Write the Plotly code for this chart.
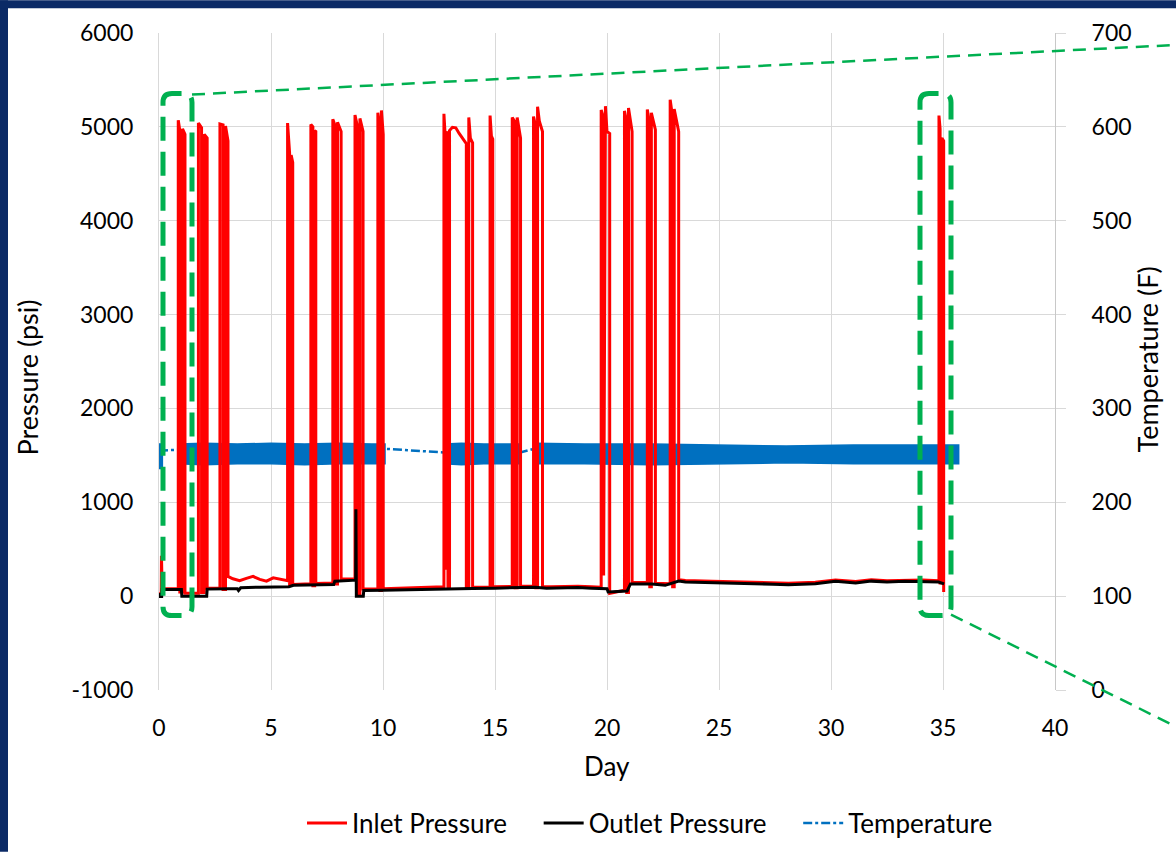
import plotly.graph_objects as go

# ---------------- data ----------------
# Inlet pressure (psi) vs day
inlet_pts = [
    (0.00, 25), (0.10, 30), (0.11, 430), (0.14, 80), (0.86, 82),
    # A
    (0.86, 5070), (0.93, 4960), (0.93, 45), (1.05, 45), (1.05, 4980), (1.16, 4920), (1.16, 30),
    (1.76, 30),
    # B
    (1.76, 5040), (1.90, 4990), (1.90, 40), (2.02, 40), (2.02, 4920), (2.15, 4880), (2.15, 85),
    (2.72, 88),
    # C
    (2.72, 5030), (2.86, 5020), (2.86, 70), (2.97, 70), (2.97, 5010), (3.08, 4850), (3.08, 210),
    (3.30, 185), (3.60, 165), (3.90, 190), (4.20, 210), (4.50, 178), (4.80, 160), (5.10, 195),
    (5.40, 178), (5.74, 165),
    # D
    (5.74, 5040), (5.83, 4720), (5.83, 120), (5.90, 120), (5.90, 4700), (5.97, 4620), (5.97, 125),
    (6.78, 132),
    # E
    (6.78, 5025), (6.87, 5000), (6.87, 110), (6.95, 110), (6.95, 4960), (7.00, 4950), (7.00, 135),
    (7.76, 140),
    # F
    (7.76, 5080), (7.88, 5000), (7.88, 130), (7.97, 130), (7.97, 5050), (8.13, 4950), (8.13, 182),
    (8.75, 184),
    # G
    (8.75, 5125), (8.88, 4980), (8.88, 10), (8.97, 10), (8.97, 5090), (9.11, 4950), (9.11, 75),
    (9.77, 75),
    # H
    (9.77, 5150), (9.86, 5000), (9.86, 60), (9.93, 60), (9.93, 5175), (10.01, 4920), (10.01, 80),
    (12.72, 100),
    # I
    (12.72, 5140), (12.77, 4930), (12.78, 280), (12.82, 4910), (12.90, 4950), (12.90, 95),
    (12.97, 95), (12.97, 4960), (13.10, 4995), (13.25, 4990), (13.40, 4930), (13.60, 4860),
    (13.72, 4820), (13.72, 90), (13.83, 90), (13.83, 5100), (13.90, 4880), (14.00, 4830), (14.00, 96),
    (14.78, 98),
    # J
    (14.78, 5120), (14.84, 4900), (14.90, 4870), (14.90, 100),
    (15.77, 104),
    # K
    (15.77, 5100), (15.90, 5050), (15.90, 90), (15.99, 90), (15.99, 5100), (16.14, 4880), (16.14, 106),
    (16.72, 108),
    # L
    (16.72, 5110), (16.82, 5000), (16.82, 90), (16.90, 90), (16.90, 5215), (16.98, 5060),
    (17.12, 4950), (17.12, 100),
    (17.50, 100), (18.70, 106), (19.30, 100), (19.74, 96),
    # M
    (19.74, 5180), (19.84, 5100), (19.85, 220), (19.90, 5200), (19.93, 5220), (20.00, 4950),
    (20.12, 4930), (20.12, 30),
    (20.78, 62),
    # N
    (20.78, 5170), (20.88, 5050), (20.88, 40), (20.96, 40), (20.96, 5200), (21.12, 4950), (21.12, 145),
    (21.80, 146),
    # O
    (21.80, 5185), (21.91, 5000), (21.91, 100), (21.98, 100), (21.98, 5150), (22.16, 4970), (22.16, 138),
    (22.82, 132),
    # P
    (22.82, 5290), (22.93, 5100), (22.93, 100), (23.00, 100), (23.00, 5190), (23.20, 4950), (23.20, 176),
    (23.50, 166), (24.70, 160), (25.60, 153), (26.60, 148), (27.40, 143), (28.10, 137), (29.30, 148),
    (30.20, 173), (31.10, 155), (31.80, 175), (32.50, 165), (33.30, 173), (34.10, 173), (34.82, 165),
    # Q
    (34.82, 5120), (34.87, 4980), (34.87, 140), (34.95, 140), (34.95, 4880), (35.03, 4850), (35.03, 45),
]
inlet_day = [p[0] for p in inlet_pts]
inlet_psi = [p[1] for p in inlet_pts]

# Outlet pressure (psi) vs day
outlet_day = [0.00, 0.05, 0.12, 0.14, 1.00, 1.02, 2.13, 2.15, 3.10, 3.50, 3.55, 3.65, 4.50, 5.50,
              5.80, 6.00, 7.00, 7.80, 7.85, 8.50, 8.78, 8.79, 8.81, 9.12, 9.14, 10.00, 12.70,
              13.00, 14.00, 15.00, 16.00, 16.80, 17.30, 18.70, 19.30, 20.00, 20.05, 20.90, 21.05,
              22.00, 22.60, 23.20, 23.50, 24.70, 25.60, 26.60, 27.40, 28.10, 29.30, 30.20, 31.10,
              31.80, 32.50, 33.30, 34.10, 34.80, 35.05]
outlet_psi = [30, -5, -5, 70, 72, 0, 0, 75, 80, 78, 60, 90, 95, 95,
              100, 115, 120, 125, 160, 170, 170, 925, 0, 0, 60, 62, 80,
              82, 82, 85, 90, 95, 85, 92, 85, 80, 45, 55, 130,
              130, 115, 160, 150, 145, 138, 133, 128, 122, 133, 158, 140,
              160, 150, 158, 158, 150, 130]

# Temperature (F): dash-dot line through gaps, and the recorded scatter band (min/max envelope)
temp_day = [0.00, 0.86, 10.09, 12.75, 16.12, 16.74, 35.70]
temp_F = [255, 256, 257, 253, 253, 257, 252]

band_segments = [
    {"day": [0.00, 0.15], "hi": [262, 262], "lo": [236, 236]},
    {"day": [0.86, 2.0, 3.5, 5.0, 6.5, 8.0, 9.5, 10.09],
     "hi": [262, 263, 262, 263, 262, 263, 262, 262],
     "lo": [241, 240, 241, 241, 240, 241, 241, 241]},
    {"day": [12.75, 13.5, 14.5, 15.5, 16.12],
     "hi": [262, 263, 262, 262, 262],
     "lo": [241, 240, 241, 241, 241]},
    {"day": [16.74, 19.0, 22.0, 25.0, 28.0, 31.0, 33.5, 35.70],
     "hi": [263, 262, 262, 261, 260, 261, 261, 261],
     "lo": [241, 241, 240, 241, 242, 241, 241, 241]},
]

# axis ticks
day_ticks = [0, 5, 10, 15, 20, 25, 30, 35, 40]
psi_ticks = [-1000, 0, 1000, 2000, 3000, 4000, 5000, 6000]
psi_labels = ["-1000", "0", "1000", "2000", "3000", "4000", "5000", "6000"]
temp_ticks = [0, 100, 200, 300, 400, 500, 600, 700]

# ---------------- layout constants ----------------
W, H = 1176, 858
L, R, T, B = 159, 121, 33, 163
PW, PH = W - L - R, H - T - B
FONT = "Lato, 'Open Sans', sans-serif"
GRID = "#d9d9d9"
GREEN = "#00b050"
NAVY = "#0b2a66"
PAD = "\u00a0" * 4


def px(x):
    return (x - L) / PW


def py(y):
    return (H - B - y) / PH


fig = go.Figure()

# temperature dash-dot line (primary y, right side)
fig.add_trace(go.Scatter(
    x=temp_day, y=temp_F, mode="lines", name="Temperature", yaxis="y",
    line=dict(color="#0070c0", width=2.5, dash="dashdot"), legendrank=3,
))
for seg in band_segments:
    xs = seg["day"] + seg["day"][::-1]
    ys = seg["hi"] + seg["lo"][::-1]
    fig.add_trace(go.Scatter(
        x=xs, y=ys, mode="lines", fill="toself", fillcolor="#0070c0",
        line=dict(color="#0070c0", width=1.5), yaxis="y", showlegend=False, hoverinfo="skip",
    ))

# pressures (y2, left side, drawn above temperature); outlet drawn over inlet
fig.add_trace(go.Scatter(
    x=inlet_day, y=inlet_psi, mode="lines", name="Inlet Pressure" + PAD, yaxis="y2",
    line=dict(color="#ff0000", width=3), legendrank=1,
))
fig.add_trace(go.Scatter(
    x=outlet_day, y=outlet_psi, mode="lines", name="Outlet Pressure" + PAD, yaxis="y2",
    line=dict(color="#000000", width=3), legendrank=2,
))

tickfont = dict(family=FONT, size=23, color="#000000")

fig.update_layout(
    width=W, height=H,
    margin=dict(l=L, r=R, t=T, b=B, pad=0),
    paper_bgcolor="white", plot_bgcolor="white",
    font=dict(family=FONT, size=22, color="#000000"),
    xaxis=dict(range=[0, 40], tickvals=day_ticks, showgrid=True, gridcolor=GRID, gridwidth=1,
               zeroline=False, showline=False, ticks="", tickfont=tickfont,
               ticklabelstandoff=22),
    yaxis=dict(range=[0, 700], tickvals=temp_ticks, side="right", showgrid=True,
               gridcolor=GRID, gridwidth=1, zeroline=False, showline=True, linecolor="#c8c8c8",
               linewidth=1, ticks="outside", ticklen=10, tickcolor=GRID, tickfont=tickfont,
               ticklabelstandoff=21),
    yaxis2=dict(range=[-1000, 6000], tickvals=psi_ticks, ticktext=psi_labels, side="left",
                overlaying="y", showgrid=False, zeroline=False, showline=True, linecolor=GRID,
                linewidth=1, ticks="", tickfont=tickfont, ticklabelstandoff=20),
    legend=dict(orientation="h", x=px(650), xanchor="center", y=py(829), yanchor="middle",
                font=dict(family=FONT, size=26), bgcolor="rgba(0,0,0,0)", traceorder="normal",
                itemwidth=40),
    showlegend=True,
)

# axis titles
fig.add_annotation(text="Day", x=px(607), y=py(772), xref="paper", yref="paper",
                   showarrow=False, font=dict(family=FONT, size=26), xanchor="center", yanchor="middle")
fig.add_annotation(text="Pressure (psi)", x=px(27), y=py(380), xref="paper", yref="paper",
                   showarrow=False, textangle=-90, font=dict(family=FONT, size=27),
                   xanchor="center", yanchor="middle")
fig.add_annotation(text="Temperature (F)", x=px(1148), y=py(362), xref="paper", yref="paper",
                   showarrow=False, textangle=-90, font=dict(family=FONT, size=27),
                   xanchor="center", yanchor="middle")


# green dashed callout brackets
def rounded_rect(x0, y0, x1, y1, r):
    pts = [
        ("M", [(x0, y0 + r)]),
        ("Q", [(x0, y0), (x0 + r, y0)]),
        ("L", [(x1 - r, y0)]),
        ("Q", [(x1, y0), (x1, y0 + r)]),
        ("L", [(x1, y1 - r)]),
        ("Q", [(x1, y1), (x1 - r, y1)]),
        ("L", [(x0 + r, y1)]),
        ("Q", [(x0, y1), (x0, y1 - r)]),
    ]
    s = ""
    for cmd, cs in pts:
        s += cmd + " ".join(f"{px(a):.5f},{py(b):.5f}" for a, b in cs) + " "
    return s + "Z"


for (x0, x1) in [(163, 192), (920, 951)]:
    fig.add_shape(type="path", path=rounded_rect(x0, 94, x1, 620, 9), xref="paper", yref="paper",
                  line=dict(color=GREEN, width=5, dash="24px,11px"), layer="above")

fig.add_shape(type="line", x0=px(192), y0=py(95), x1=px(1176), y1=py(45), xref="paper", yref="paper",
              line=dict(color=GREEN, width=2.5, dash="13px,8px"), layer="above")
fig.add_shape(type="line", x0=px(951), y0=py(619), x1=px(1176), y1=py(732), xref="paper", yref="paper",
              line=dict(color=GREEN, width=2.5, dash="13px,8px"), layer="above")

# navy frame strips (left and top)
fig.add_shape(type="rect", x0=px(0), x1=px(8), y0=py(H), y1=py(0), xref="paper", yref="paper",
              fillcolor=NAVY, line=dict(width=0), layer="above")
fig.add_shape(type="rect", x0=px(0), x1=px(W), y0=py(8), y1=py(0), xref="paper", yref="paper",
              fillcolor=NAVY, line=dict(width=0), layer="above")

fig.write_html("out.html", config={"displayModeBar": False},
               post_script="document.body.style.margin='0px';document.body.style.overflow='hidden';")
